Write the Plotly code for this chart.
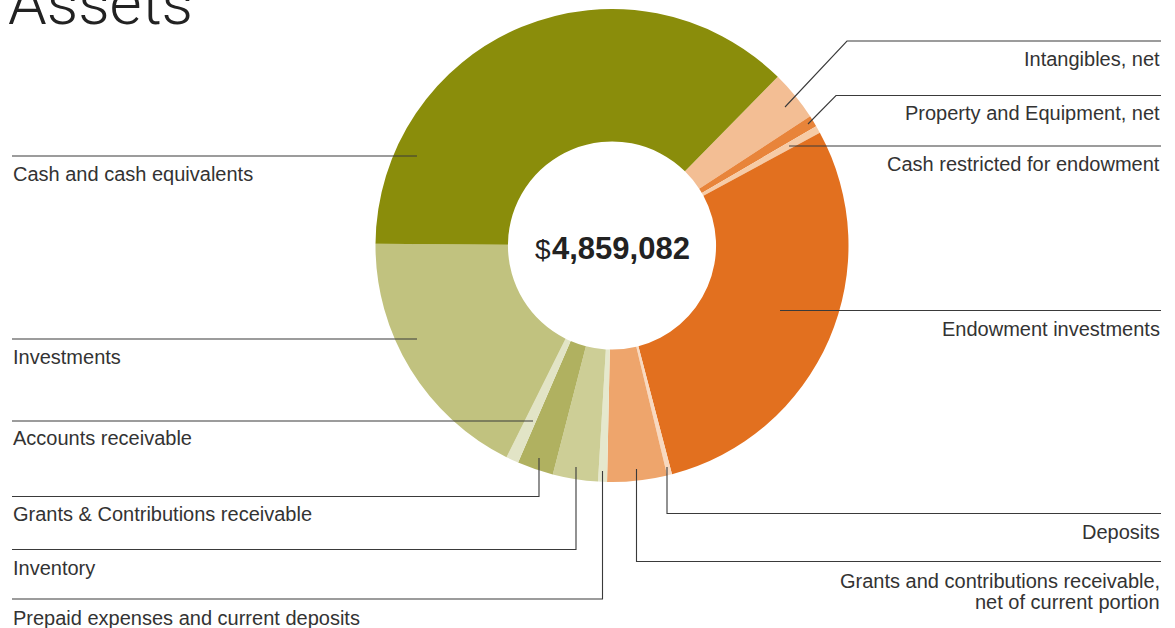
import plotly.graph_objects as go

W, H = 1175, 628

# ---------------- data (clockwise from the top-right) ----------------
labels = [
    "Intangibles, net",
    "Property and Equipment, net",
    "Cash restricted for endowment",
    "Endowment investments",
    "Deposits",
    "Grants and contributions receivable, net of current portion",
    "Prepaid expenses and current deposits",
    "Inventory",
    "Grants & Contributions receivable",
    "Accounts receivable",
    "Investments",
    "Cash and cash equivalents",
]
values = [167400, 37800, 24300, 1401000, 16200, 198400, 29700,
          149800, 120100, 41800, 862500, 1810082]
total_text = "4,859,082"

colors = ["#f3be94", "#e8843a", "#f6cba6", "#e2701f", "#f8d9c0", "#eea56c",
          "#e5e8cd", "#cdce96", "#b0b160", "#e2e4c6", "#c1c27f", "#8a8d0b"]

# ---------------- layout helpers (pixel -> paper) ----------------
def px(x):
    return x / W

def py(y):
    return 1 - y / H

cx, cy, r = 612, 245.5, 236.5

fig = go.Figure()
fig.add_trace(go.Pie(
    labels=labels, values=values, sort=False, direction="clockwise",
    rotation=44.5, hole=0.44, textinfo="none", showlegend=False,
    marker=dict(colors=colors, line=dict(width=0)),
    domain=dict(x=[px(cx - r), px(cx + r)], y=[py(cy + r), py(cy - r)]),
))

# leader lines (pixel coordinates of layout)
leaders = [
    [(12, 156), (417, 156)],
    [(12, 339), (417, 339)],
    [(12, 421), (533, 421)],
    [(12, 496.5), (539, 496.5), (539, 458)],
    [(12, 549.5), (576, 549.5), (576, 467)],
    [(12, 599), (602.5, 599), (602.5, 471)],
    [(1161, 41), (847, 41), (785, 107)],
    [(1161, 95.5), (836, 95.5), (808, 124)],
    [(1161, 146), (789, 146)],
    [(1161, 310.5), (780, 310.5)],
    [(1161, 513.5), (667, 513.5), (667, 467)],
    [(1161, 561.5), (636.5, 561.5), (636.5, 469)],
]
shapes = []
for pts in leaders:
    d = "M " + " L ".join(f"{px(x):.5f},{py(y):.5f}" for x, y in pts)
    shapes.append(dict(type="path", xref="paper", yref="paper", path=d,
                       line=dict(color="#3a3a3a", width=1.1), layer="above"))

FONT = "Liberation Sans"
label_pos = [
    # (text, x, y, side)
    ("Cash and cash equivalents", 12, 174, "left"),
    ("Investments", 12, 356.5, "left"),
    ("Accounts receivable", 12, 437.5, "left"),
    ("Grants &amp; Contributions receivable", 12, 513.5, "left"),
    ("Inventory", 12, 567.5, "left"),
    ("Prepaid expenses and current deposits", 12, 617.5, "left"),
    ("Intangibles, net", 1161, 59, "right"),
    ("Property and Equipment, net", 1161, 113.5, "right"),
    ("Cash restricted for endowment", 1161, 163.5, "right"),
    ("Endowment investments", 1161, 328.5, "right"),
    ("Deposits", 1161, 531.5, "right"),
    ("Grants and contributions receivable,", 1161, 580.5, "right"),
    ("net of current portion", 1161, 601.5, "right"),
]
annotations = []
for t, x, y, side in label_pos:
    annotations.append(dict(
        text=t, xref="paper", yref="paper", x=px(x), y=py(y),
        xanchor=side, yanchor="middle", align=side, showarrow=False,
        borderpad=0, font=dict(family=FONT, size=20, color="#333333")))

# title
annotations.append(dict(
    text="Assets", xref="paper", yref="paper", x=px(7), y=py(2),
    xanchor="left", yanchor="middle", showarrow=False, borderpad=0,
    font=dict(family="Roboto", size=62, color="#222222", weight=300)))

# center total
annotations.append(dict(
    text="<span style='font-size:28px;font-weight:normal'>$</span>"
         "<span style='font-size:5px'> </span><b>" + total_text + "</b>",
    xref="paper", yref="paper", x=px(cx), y=py(248), xanchor="center",
    yanchor="middle", showarrow=False, borderpad=0,
    font=dict(family=FONT, size=31, color="#222222")))

fig.update_layout(
    width=W, height=H, margin=dict(l=0, r=0, t=0, b=0),
    paper_bgcolor="white", plot_bgcolor="white",
    shapes=shapes, annotations=annotations,
)
fig.write_html("out.html")
